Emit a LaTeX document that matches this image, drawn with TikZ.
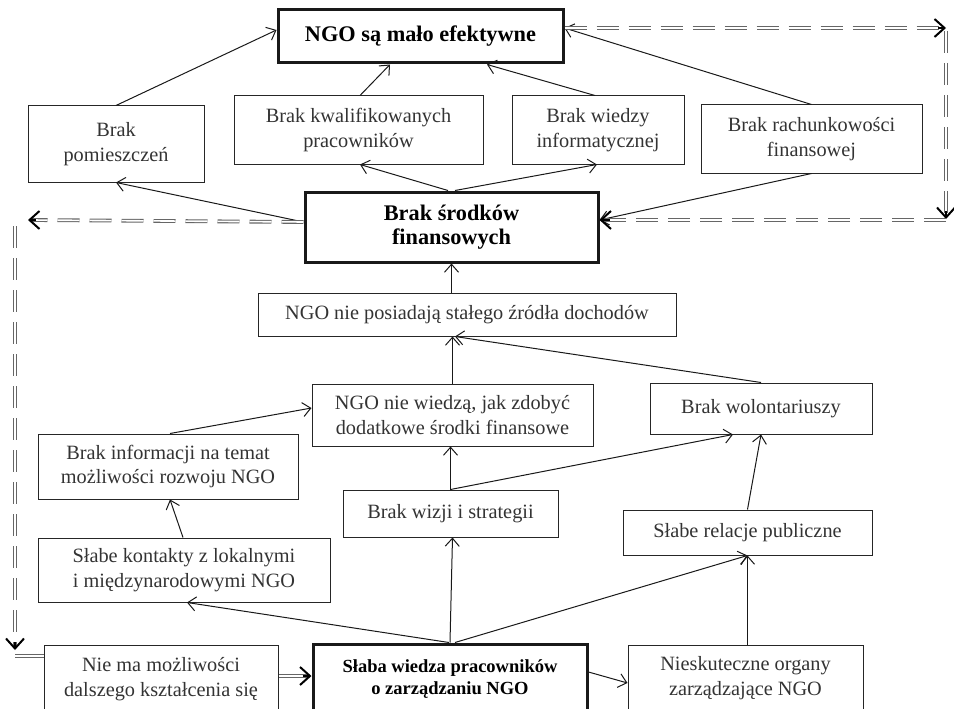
\documentclass[tikz,border=0pt]{standalone}
\usepackage{fontspec}
\setmainfont{Liberation Serif}
\usetikzlibrary{arrows.meta,calc}
\begin{document}
\begin{tikzpicture}[x=1pt,y=-1pt,
  box/.style={draw=black!85, line width=1pt, align=center, inner sep=0pt, font=\fontsize{20.3}{24.5}\selectfont, text=black!80},
  bbox/.style={draw=black!90, line width=3pt, align=center, inner sep=0pt, font=\bfseries\fontsize{22.3}{24.5}\selectfont},
  sbox/.style={draw=black!90, line width=3pt, align=center, inner sep=0pt, font=\bfseries\fontsize{18.5}{21.5}\selectfont},
  arr/.style={draw=black!90, line width=1pt, -{Straight Barb[length=8pt,width=14pt]}},
  dbl/.style={draw=black!60, line width=1.1pt, double=white, double distance=1.6pt, dash pattern=on 22pt off 10pt},
  dtip/.style={draw=black, line width=2pt, -{Straight Barb[length=10pt,width=18pt]}},
  dsolid/.style={draw=black!60, line width=1.1pt, double=white, double distance=1.6pt},
]
\useasboundingbox (0,0) rectangle (954,709);
\clip (0,0) rectangle (954,709);

% nodes
\node[bbox, minimum width=285pt, minimum height=53pt] (top) at (420.5,36.5) {NGO są mało efektywne};
\node[box, minimum width=176pt, minimum height=76pt] (pom) at (116,144) {Brak\\pomieszczeń};
\node[box, minimum width=249pt, minimum height=68pt] (kwal) at (358.5,130) {Brak kwalifikowanych\\pracowników};
\node[box, minimum width=172pt, minimum height=68pt] (wied) at (598,130) {Brak wiedzy\\informatycznej};
\node[box, minimum width=221pt, minimum height=68pt] (rach) at (811.5,139) {Brak rachunkowości\\finansowej};
\node[bbox, minimum width=293pt, minimum height=70pt] (srod) at (451.5,227) {Brak środków\\finansowych};
\node[box, minimum width=418pt, minimum height=43pt] (posi) at (467,314.5) {NGO nie posiadają stałego źródła dochodów};
\node[box, minimum width=281pt, minimum height=62pt] (wie) at (452.5,415) {NGO nie wiedzą, jak zdobyć\\dodatkowe środki finansowe};
\node[box, minimum width=222pt, minimum height=51pt] (wol) at (761,408.5) {Brak wolontariuszy};
\node[box, minimum width=260pt, minimum height=65pt] (info) at (168,466.5) {Brak informacji na temat\\możliwości rozwoju NGO};
\node[box, minimum width=215pt, minimum height=47pt] (wiz) at (450.5,513.5) {Brak wizji i strategii};
\node[box, minimum width=292pt, minimum height=64pt] (kont) at (184,570) {Słabe kontakty z lokalnymi\\i międzynarodowymi NGO};
\node[box, minimum width=249pt, minimum height=45pt] (rel) at (747.5,532.5) {Słabe relacje publiczne};
\node[box, minimum width=234pt, minimum height=68pt] (nie) at (161,679) {Nie ma możliwości\\dalszego kształcenia się};
\node[sbox, minimum width=274pt, minimum height=70pt] (sla) at (450,679) {Słaba wiedza pracowników\\o zarządzaniu NGO};
\node[box, minimum width=235pt, minimum height=66pt] (nies) at (745.5,678) {Nieskuteczne organy\\zarządzające NGO};

% solid arrows
\draw[arr] (pom.north) -- ([yshift=6.5pt]top.west);
\draw[arr] ([xshift=1.5pt]kwal.north) -- ([xshift=-30.5pt]top.south);
\draw[arr] ([xshift=-3pt]wied.north) -- ([xshift=66.5pt]top.south);
\draw[arr] (rach.north) -- ([yshift=8.5pt]top.east);
\draw[arr] ([xshift=-3.5pt]srod.north) -- ([xshift=1.5pt]kwal.south);
\draw[arr] ([xshift=3.5pt]srod.north) -- ([xshift=-1pt]wied.south);
\draw[arr] ([yshift=5pt]srod.west) -- (pom.south);
\draw[arr] (rach.south) -- ([yshift=7pt]srod.east);
\draw[arr] (srod.south |- posi.north) -- (srod.south);
\draw[arr] (wie.north) -- (wie.north |- posi.south);
\draw[arr] (wol.north) -- ([xshift=-12pt]posi.south);
\draw[arr] ([xshift=2pt]info.north) -- ([yshift=7pt]wie.west);
\draw[arr] ([xshift=-1pt]kont.north) -- ([xshift=2pt]info.south);
\draw[arr] (wiz.north) -- (wiz.north |- wie.south);
\draw[arr] (wiz.north) -- ([xshift=-28pt]wol.south);
\draw[arr] (rel.north) -- (wol.south);
\draw[arr] ([xshift=-1pt]sla.north) -- ([xshift=3pt]kont.south);
\draw[arr] (sla.north) -- ([xshift=2pt]wiz.south);
\draw[arr] ([xshift=5pt]sla.north) -- (rel.south);
\draw[arr] (rel.south |- nies.north) -- (rel.south);
\draw[arr] ([yshift=7pt]sla.east) -- ([yshift=-5pt]nies.west);

% double dashed loops
\coordinate (c1) at (946,28);
\coordinate (c2) at (946,219);
\coordinate (c3) at (28,220);
\coordinate (c4) at (15,226);
\coordinate (c5) at (15,650);
\coordinate (c6) at (15,656);

\draw[dbl] ([yshift=8.5pt]top.east) -- ([xshift=-3pt]c1);
\draw[dtip] ($(c1)+(-8,0)$) -- (c1);
\draw[dbl] ([yshift=-3pt]c1) -- ([yshift=3pt]c2);
\draw[dtip] ($(c2)+(0,-8)$) -- (c2);
\draw[dbl] ([yshift=-1pt]c2) -- ([xshift=4pt,yshift=7pt]srod.east);
\draw[dtip] ([xshift=10pt,yshift=7pt]srod.east) -- ([yshift=7pt]srod.east);

\draw[dbl] ([yshift=5pt]srod.west) -- ([xshift=3pt]c3);
\draw[dtip] ($(c3)+(8,0)$) -- (c3);
\draw[dbl] (c4) -- ([yshift=3pt]c5);
\draw[dtip] ($(c5)+(0,-8)$) -- (c5);
\draw[dsolid] (c6) -- ([yshift=23pt]nie.west);

\draw[dsolid] ([yshift=3pt]nie.east) -- ([xshift=-3pt,yshift=3pt]sla.west);
\draw[dtip] ([xshift=-9pt,yshift=3pt]sla.west) -- ([yshift=3pt]sla.west);
\end{tikzpicture}
\end{document}
